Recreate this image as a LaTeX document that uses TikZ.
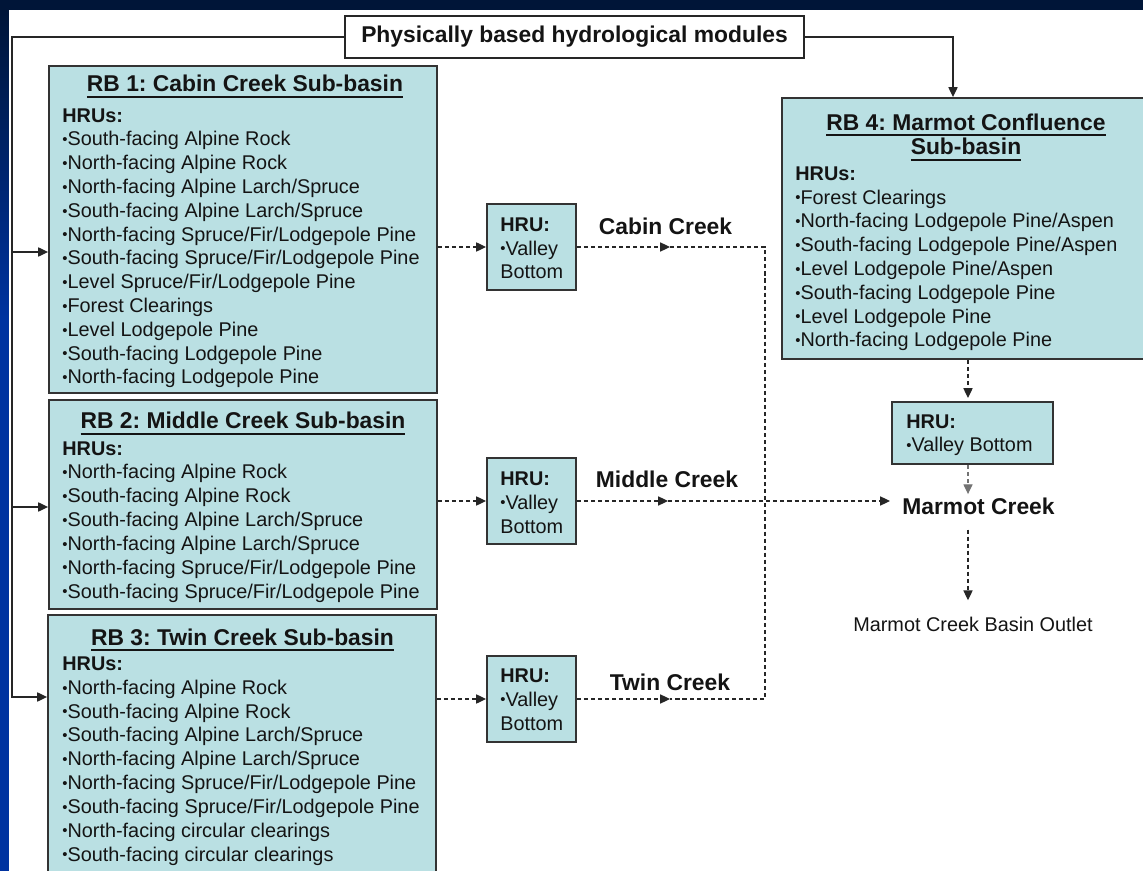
\documentclass[tikz,border=0pt]{standalone}
\usepackage{graphicx}
\usepackage{fontspec}
\setmainfont{Liberation Sans}
\frenchspacing
\usetikzlibrary{arrows.meta, positioning}
\definecolor{navy}{RGB}{0,21,56}
\definecolor{slideblue}{RGB}{0,51,160}
\definecolor{basinfill}{RGB}{186,224,227}
\definecolor{ink}{RGB}{20,20,20}
\newcommand{\bul}{\raisebox{0.12ex}{\scalebox{0.75}{\textbullet}}}
\newcommand{\ulin}[1]{\setbox0=\hbox{#1}\rlap{\rule[-3.4pt]{\wd0}{1pt}}\box0}
\tikzset{
  basin/.style 2 args={draw=black!80, line width=1.1pt, fill=basinfill,
    minimum width=#1, minimum height=#2, inner sep=0pt},
  hd/.style={anchor=base, inner sep=0pt, text=ink, align=center,
    font=\fontsize{13}{14.2}\selectfont\bfseries},
  lst/.style={anchor=base west, inner sep=0pt, text=ink, align=left,
    font=\fontsize{11.3}{13.55}\selectfont},
  lbl/.style={anchor=base, inner sep=0pt, text=ink,
    font=\fontsize{13}{15}\selectfont\bfseries},
  feed/.style={draw=black!85, line width=0.7pt, -{Triangle[length=5.6pt,width=5.2pt]}},
  flow/.style={feed, dash pattern=on 2.3pt off 1.7pt},
  plain/.style={draw=black!85, line width=0.7pt, dash pattern=on 2.3pt off 1.7pt}
}

\begin{document}
\begin{tikzpicture}[x=0.02cm, y=-0.02cm]
  \useasboundingbox (0,0) rectangle (1143,871);
  \fill[navy] (0,0) rectangle (1143,871);
  \shade[top color=navy, bottom color=slideblue] (0,10) rectangle (9,320);
  \fill[slideblue] (0,320) rectangle (9,871);
  \fill[white] (9,10) rectangle (1143,871);

  \node[draw=black!85, line width=0.9pt, fill=white, inner sep=0pt,
    minimum width=9.18cm, minimum height=0.84cm, text=ink,
    font=\fontsize{13}{15}\selectfont\bfseries] (ttl) at (574.5,37) {Physically based hydrological modules};

  \node[basin={7.76cm}{6.54cm}] (rb1) at (243,229.5) {};
  \node[basin={7.76cm}{4.18cm}] (rb2) at (243,504.5) {};
  \node[basin={7.76cm}{5.8cm}] (rb3) at (242,760) {};
  \node[basin={7.36cm}{5.22cm}] (rb4) at (966,228.5) {};
  \node[basin={1.78cm}{1.72cm}] (hru1) at (531.5,247) {};
  \node[basin={1.78cm}{1.72cm}] (hru2) at (531.5,501) {};
  \node[basin={1.78cm}{1.72cm}] (hru3) at (531.5,699) {};
  \node[basin={3.22cm}{1.24cm}] (hru4) at (972.5,433) {};

  % multi-line nodes sit on the baseline of their last line
  \node[hd] (rb1t) at (245,92) {\ulin{RB 1: Cabin Creek Sub-basin}};
  \node[hd] (rb2t) at (243,429) {\ulin{RB 2: Middle Creek Sub-basin}};
  \node[hd] (rb3t) at (242.5,645) {\ulin{RB 3: Twin Creek Sub-basin}};
  \node[hd] (rb4t) at (966,155) {\ulin{RB 4: Marmot Confluence}\\\ulin{Sub-basin}};

  \node[lst] (rb1l) at (62,384) {\textbf{HRUs:}\\
    \bul South-facing Alpine Rock\\
    \bul North-facing Alpine Rock\\
    \bul North-facing Alpine Larch/Spruce\\
    \bul South-facing Alpine Larch/Spruce\\
    \bul North-facing Spruce/Fir/Lodgepole Pine\\
    \bul South-facing Spruce/Fir/Lodgepole Pine\\
    \bul Level Spruce/Fir/Lodgepole Pine\\
    \bul Forest Clearings\\
    \bul Level Lodgepole Pine\\
    \bul South-facing Lodgepole Pine\\
    \bul North-facing Lodgepole Pine};
  \node[lst] (rb2l) at (62,598) {\textbf{HRUs:}\\
    \bul North-facing Alpine Rock\\
    \bul South-facing Alpine Rock\\
    \bul South-facing Alpine Larch/Spruce\\
    \bul North-facing Alpine Larch/Spruce\\
    \bul North-facing Spruce/Fir/Lodgepole Pine\\
    \bul South-facing Spruce/Fir/Lodgepole Pine};
  \node[lst] (rb3l) at (62,861) {\textbf{HRUs:}\\
    \bul North-facing Alpine Rock\\
    \bul South-facing Alpine Rock\\
    \bul South-facing Alpine Larch/Spruce\\
    \bul North-facing Alpine Larch/Spruce\\
    \bul North-facing Spruce/Fir/Lodgepole Pine\\
    \bul South-facing Spruce/Fir/Lodgepole Pine\\
    \bul North-facing circular clearings\\
    \bul South-facing circular clearings};
  \node[lst] (rb4l) at (795,347) {\textbf{HRUs:}\\
    \bul Forest Clearings\\
    \bul North-facing Lodgepole Pine/Aspen\\
    \bul South-facing Lodgepole Pine/Aspen\\
    \bul Level Lodgepole Pine/Aspen\\
    \bul South-facing Lodgepole Pine\\
    \bul Level Lodgepole Pine\\
    \bul North-facing Lodgepole Pine};

  \node[lst] (hru1l) at (500,279) {\textbf{HRU:}\\\bul Valley\\Bottom};
  \node[lst] (hru2l) at (500,533) {\textbf{HRU:}\\\bul Valley\\Bottom};
  \node[lst] (hru3l) at (500,730) {\textbf{HRU:}\\\bul Valley\\Bottom};
  \node[lst] (hru4l) at (906,452) {\textbf{HRU:}\\\bul Valley Bottom};

  \node[lbl] (cab) at (665.5,235) {Cabin Creek};
  \node[lbl] (mid) at (667,487) {Middle Creek};
  \node[lbl] (twin) at (670,690) {Twin Creek};
  \node[lbl] (mc) at (978.5,515) {Marmot Creek};
  \node[lbl, font=\fontsize{11.3}{13.55}\selectfont] (out) at (973,631) {Marmot Creek Basin Outlet};

  \coordinate (k1) at (12,252);
  \coordinate (k2) at (12,507);
  \coordinate (k3) at (12,697);
  \coordinate (k4) at (953,37);
  \draw[feed] (ttl.west) -| (k3) -- (k3 -| rb3.west);
  \draw[feed] (k1) -- (k1 -| rb1.west);
  \draw[feed] (k2) -- (k2 -| rb2.west);
  \draw[feed] (ttl.east) -- (k4) -- (k4 |- rb4.north);

  \draw[flow] (rb1.east |- hru1.west) -- (hru1.west);
  \draw[flow] (rb2.east |- hru2.west) -- (hru2.west);
  \draw[flow] (rb3.east |- hru3.west) -- (hru3.west);

  \coordinate (cm) at (670,247);
  \coordinate (cj) at (765,247);
  \coordinate (mm) at (668,501);
  \coordinate (tm) at (670,699);
  \coordinate (tj) at (765,699);
  \draw[flow] (hru1.east) -- (cm);
  \draw[flow] (hru2.east) -- (mm);
  \draw[flow] (hru3.east) -- (tm);
  \draw[plain] (cm) -- (cj) -- (tj) -- (tm);
  \draw[flow, shorten >=0.24cm] (mm) -- (mm -| mc.west);

  \coordinate (vx) at (968,0);
  \draw[flow, shorten >=0.06cm] (rb4.south -| vx) -- (hru4.north -| vx);
  \draw[flow, draw=black!55, shorten >=0.08cm] (hru4.south -| vx) -- (mc.north -| vx);
  \draw[flow, shorten <=0.28cm, shorten >=0.32cm] (mc.south -| vx) -- (out.north -| vx);
\end{tikzpicture}
\end{document}
